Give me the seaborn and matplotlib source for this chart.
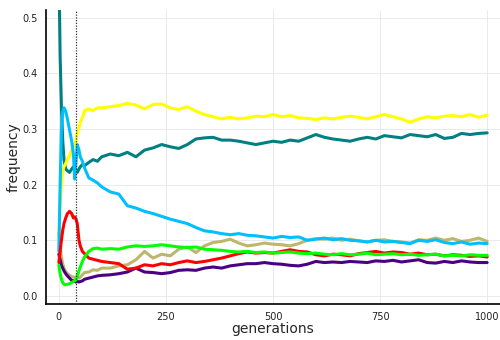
import numpy as np
import pandas as pd
import matplotlib
matplotlib.use("Agg")
import matplotlib.pyplot as plt
import seaborn as sns

# generations at which the frequencies were recorded
early_gens = [0, 3, 6, 9, 12, 16, 20, 25, 30, 34, 37, 40, 43, 47, 50, 55, 60, 70, 80, 90, 100]
late_gens = list(range(120, 1001, 20))
generations = early_gens + late_gens

yellow = [0.11, 0.16, 0.20, 0.225, 0.232, 0.238, 0.245, 0.252, 0.262, 0.268, 0.272, 0.28, 0.292,
          0.302, 0.312, 0.32, 0.333, 0.336, 0.333, 0.338,
          0.338,
          0.34, 0.342, 0.346, 0.343, 0.336, 0.344, 0.345, 0.338, 0.335, 0.34, 0.332, 0.326, 0.322,
          0.318, 0.321, 0.318, 0.32, 0.323, 0.322, 0.326, 0.322, 0.324, 0.32, 0.319, 0.317, 0.32,
          0.318, 0.321, 0.323, 0.321, 0.318, 0.322, 0.326, 0.322, 0.318, 0.312, 0.318, 0.322, 0.32,
          0.323, 0.324, 0.322, 0.326, 0.321, 0.325]

teal = [0.60, 0.43, 0.34, 0.28, 0.245, 0.228, 0.225, 0.222, 0.228, 0.232, 0.23, 0.226, 0.222,
        0.228, 0.232, 0.236, 0.234, 0.24, 0.245, 0.242, 0.25,
        0.255, 0.252, 0.258, 0.25, 0.262, 0.266, 0.272, 0.268, 0.265, 0.272, 0.282, 0.284, 0.285,
        0.28, 0.28, 0.278, 0.275, 0.272, 0.275, 0.278, 0.276, 0.28, 0.278, 0.284, 0.29, 0.285,
        0.282, 0.28, 0.278, 0.282, 0.285, 0.282, 0.288, 0.286, 0.284, 0.29, 0.288, 0.286, 0.29,
        0.283, 0.285, 0.292, 0.29, 0.292, 0.293]

sky = [0.08, 0.20, 0.30, 0.33, 0.338, 0.332, 0.318, 0.298, 0.278, 0.255, 0.21, 0.24, 0.272,
       0.262, 0.25, 0.242, 0.23, 0.212, 0.208, 0.203, 0.196,
       0.187, 0.183, 0.162, 0.158, 0.152, 0.148, 0.143, 0.138, 0.134, 0.13, 0.123, 0.117, 0.115,
       0.112, 0.11, 0.112, 0.109, 0.108, 0.106, 0.104, 0.107, 0.105, 0.106, 0.10, 0.102, 0.104,
       0.101, 0.103, 0.10, 0.099, 0.097, 0.10, 0.097, 0.098, 0.096, 0.094, 0.10, 0.098, 0.101,
       0.096, 0.094, 0.097, 0.093, 0.095, 0.094]

red = [0.06, 0.08, 0.10, 0.118, 0.13, 0.14, 0.148, 0.152, 0.148, 0.14, 0.142, 0.138, 0.13,
       0.10, 0.09, 0.08, 0.076, 0.068, 0.066, 0.064, 0.062,
       0.06, 0.058, 0.048, 0.05, 0.056, 0.054, 0.058, 0.056, 0.06, 0.063, 0.06, 0.062, 0.065,
       0.068, 0.072, 0.076, 0.079, 0.077, 0.078, 0.077, 0.08, 0.083, 0.08, 0.079, 0.074, 0.072,
       0.075, 0.074, 0.072, 0.076, 0.078, 0.08, 0.077, 0.079, 0.078, 0.075, 0.077, 0.074, 0.075,
       0.072, 0.074, 0.073, 0.071, 0.072, 0.07]

lime = [0.055, 0.04, 0.03, 0.024, 0.021, 0.02, 0.021, 0.022, 0.024, 0.026, 0.027, 0.029, 0.035,
        0.045, 0.052, 0.062, 0.07, 0.08, 0.085, 0.086, 0.084,
        0.085, 0.084, 0.088, 0.09, 0.089, 0.09, 0.092, 0.09, 0.088, 0.087, 0.088, 0.084, 0.083,
        0.082, 0.08, 0.079, 0.08, 0.078, 0.079, 0.077, 0.078, 0.079, 0.077, 0.076, 0.077, 0.075,
        0.074, 0.076, 0.074, 0.075, 0.077, 0.074, 0.075, 0.076, 0.074, 0.075, 0.073, 0.074, 0.075,
        0.072, 0.073, 0.072, 0.074, 0.073, 0.073]

khaki = [0.113, 0.09, 0.07, 0.058, 0.05, 0.044, 0.04, 0.037, 0.035, 0.034, 0.033, 0.034, 0.036,
         0.032, 0.034, 0.038, 0.042, 0.043, 0.047, 0.046, 0.05,
         0.05, 0.054, 0.056, 0.065, 0.08, 0.068, 0.075, 0.072, 0.084, 0.088, 0.078, 0.09, 0.096,
         0.098, 0.102, 0.095, 0.09, 0.092, 0.095, 0.093, 0.092, 0.09, 0.094, 0.10, 0.103, 0.102,
         0.104, 0.10, 0.102, 0.099, 0.097, 0.10, 0.101, 0.098, 0.097, 0.095, 0.101, 0.10, 0.104,
         0.10, 0.103, 0.098, 0.10, 0.104, 0.098]

indigo = [0.075, 0.065, 0.055, 0.05, 0.045, 0.04, 0.036, 0.032, 0.028, 0.027, 0.026, 0.025, 0.026,
          0.025, 0.026, 0.027, 0.03, 0.032, 0.034, 0.036, 0.037,
          0.038, 0.04, 0.043, 0.05, 0.043, 0.042, 0.04, 0.042, 0.046, 0.047, 0.046, 0.05, 0.052,
          0.05, 0.054, 0.056, 0.058, 0.058, 0.06, 0.058, 0.057, 0.055, 0.054, 0.057, 0.062, 0.06,
          0.061, 0.06, 0.062, 0.061, 0.06, 0.063, 0.062, 0.064, 0.061, 0.063, 0.065, 0.06, 0.059,
          0.062, 0.06, 0.063, 0.061, 0.06, 0.06]

series = {
    "khaki": khaki,
    "indigo": indigo,
    "teal": teal,
    "yellow": yellow,
    "sky": sky,
    "red": red,
    "lime": lime,
}
colors = {
    "yellow": "#FFFF00",
    "teal": "#008080",
    "sky": "#00BFFF",
    "red": "#FF0000",
    "lime": "#00FF00",
    "khaki": "#BDB76B",
    "indigo": "#4B0082",
}
marker_gen = 40  # generation marked by the dotted line

x_ticks = [0, 250, 500, 750, 1000]
y_ticks = [0.0, 0.1, 0.2, 0.3, 0.4, 0.5]

frames = []
for name, vals in series.items():
    frames.append(pd.DataFrame({"generation": generations, "frequency": vals, "allele": name}))
df = pd.concat(frames, ignore_index=True)

sns.set_style("white")
plt.rcParams["font.family"] = ["DejaVu Sans"]

fig = plt.figure(figsize=(5.0, 3.4), dpi=100)
ax = fig.add_axes([0.092, 0.106, 0.908, 0.865])

sns.lineplot(data=df, x="generation", y="frequency", hue="allele",
             hue_order=list(series.keys()), palette=colors, linewidth=2.2,
             legend=False, ax=ax, sort=False, estimator=None)

ax.axvline(marker_gen, color="#333333", linestyle=(0, (1, 1.2)), linewidth=0.9, zorder=5)

ax.set_xlim(-30, 1030)
ax.set_ylim(-0.0144, 0.514)
ax.set_xticks(x_ticks)
ax.set_xticklabels([str(t) for t in x_ticks])
ax.set_yticks(y_ticks)
ax.set_yticklabels([f"{t:.1f}" for t in y_ticks])
ax.grid(True, color="#e6e6e6", linewidth=0.6)
ax.set_axisbelow(True)

for side in ("top", "right"):
    ax.spines[side].set_visible(False)
for side in ("left", "bottom"):
    ax.spines[side].set_color("black")
    ax.spines[side].set_linewidth(1.2)

ax.tick_params(axis="both", labelsize=7, colors="#222222", length=0, pad=6)
ax.set_xlabel("generations", fontsize=10, labelpad=0)
ax.set_ylabel("frequency", fontsize=10, labelpad=1)

fig.savefig("out.png", dpi=100)
